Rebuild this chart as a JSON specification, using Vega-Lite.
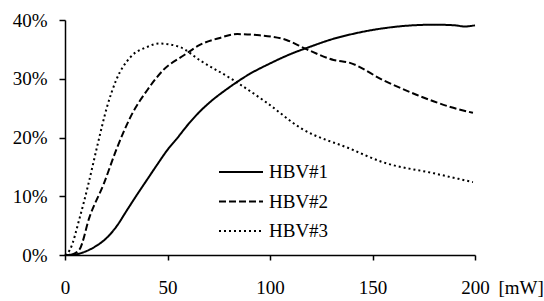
{
  "$schema": "https://vega.github.io/schema/vega-lite/v6.json",
  "autosize": "none",
  "width": 410,
  "height": 235,
  "padding": {"left": 65, "top": 20, "right": 69, "bottom": 46},
  "background": "white",
  "config": {
    "view": {"stroke": null},
    "font": "Liberation Serif",
    "axis": {"grid": false, "domainColor": "black", "domainWidth": 1.5, "tickColor": "black", "tickWidth": 1.5, "labelColor": "black", "labelFont": "Liberation Serif", "titleFont": "Liberation Serif", "labelFontWeight": "normal"}
  },
  "data": {"values": [
    {"s": "HBV#1", "x": 0, "y": 0},
    {"s": "HBV#1", "x": 5, "y": 0.001},
    {"s": "HBV#1", "x": 10, "y": 0.006},
    {"s": "HBV#1", "x": 15, "y": 0.015},
    {"s": "HBV#1", "x": 20, "y": 0.028},
    {"s": "HBV#1", "x": 25, "y": 0.048},
    {"s": "HBV#1", "x": 30, "y": 0.075},
    {"s": "HBV#1", "x": 35, "y": 0.102},
    {"s": "HBV#1", "x": 40, "y": 0.128},
    {"s": "HBV#1", "x": 45, "y": 0.154},
    {"s": "HBV#1", "x": 50, "y": 0.179},
    {"s": "HBV#1", "x": 55, "y": 0.2},
    {"s": "HBV#1", "x": 60, "y": 0.222},
    {"s": "HBV#1", "x": 66, "y": 0.245},
    {"s": "HBV#1", "x": 70, "y": 0.258},
    {"s": "HBV#1", "x": 80, "y": 0.285},
    {"s": "HBV#1", "x": 90, "y": 0.308},
    {"s": "HBV#1", "x": 100, "y": 0.326},
    {"s": "HBV#1", "x": 110, "y": 0.342},
    {"s": "HBV#1", "x": 120, "y": 0.355},
    {"s": "HBV#1", "x": 130, "y": 0.367},
    {"s": "HBV#1", "x": 140, "y": 0.376},
    {"s": "HBV#1", "x": 150, "y": 0.383},
    {"s": "HBV#1", "x": 160, "y": 0.388},
    {"s": "HBV#1", "x": 170, "y": 0.391},
    {"s": "HBV#1", "x": 180, "y": 0.392},
    {"s": "HBV#1", "x": 190, "y": 0.391},
    {"s": "HBV#1", "x": 195, "y": 0.389},
    {"s": "HBV#1", "x": 200, "y": 0.391},
    {"s": "HBV#2", "x": 3, "y": 0},
    {"s": "HBV#2", "x": 7, "y": 0.009},
    {"s": "HBV#2", "x": 12, "y": 0.065},
    {"s": "HBV#2", "x": 19, "y": 0.122},
    {"s": "HBV#2", "x": 25, "y": 0.179},
    {"s": "HBV#2", "x": 33, "y": 0.242},
    {"s": "HBV#2", "x": 40, "y": 0.28},
    {"s": "HBV#2", "x": 48, "y": 0.315},
    {"s": "HBV#2", "x": 58, "y": 0.34},
    {"s": "HBV#2", "x": 66, "y": 0.358},
    {"s": "HBV#2", "x": 75, "y": 0.369},
    {"s": "HBV#2", "x": 84, "y": 0.376},
    {"s": "HBV#2", "x": 95, "y": 0.374},
    {"s": "HBV#2", "x": 108, "y": 0.366},
    {"s": "HBV#2", "x": 118, "y": 0.35},
    {"s": "HBV#2", "x": 131, "y": 0.332},
    {"s": "HBV#2", "x": 139, "y": 0.327},
    {"s": "HBV#2", "x": 155, "y": 0.298},
    {"s": "HBV#2", "x": 172, "y": 0.272},
    {"s": "HBV#2", "x": 188, "y": 0.252},
    {"s": "HBV#2", "x": 199, "y": 0.242},
    {"s": "HBV#3", "x": 0, "y": 0},
    {"s": "HBV#3", "x": 2.4, "y": 0.009},
    {"s": "HBV#3", "x": 7.3, "y": 0.065},
    {"s": "HBV#3", "x": 11.5, "y": 0.122},
    {"s": "HBV#3", "x": 15.5, "y": 0.182},
    {"s": "HBV#3", "x": 20.5, "y": 0.252},
    {"s": "HBV#3", "x": 25, "y": 0.298},
    {"s": "HBV#3", "x": 32, "y": 0.337},
    {"s": "HBV#3", "x": 40, "y": 0.354},
    {"s": "HBV#3", "x": 46, "y": 0.36},
    {"s": "HBV#3", "x": 56, "y": 0.354},
    {"s": "HBV#3", "x": 66, "y": 0.331},
    {"s": "HBV#3", "x": 82, "y": 0.298},
    {"s": "HBV#3", "x": 98.5, "y": 0.259},
    {"s": "HBV#3", "x": 115, "y": 0.216},
    {"s": "HBV#3", "x": 139, "y": 0.181},
    {"s": "HBV#3", "x": 155, "y": 0.158},
    {"s": "HBV#3", "x": 180, "y": 0.139},
    {"s": "HBV#3", "x": 199, "y": 0.124}
  ]},
  "mark": {"type": "line", "color": "black", "strokeWidth": 2, "interpolate": "monotone"},
  "encoding": {
    "x": {"field": "x", "type": "quantitative", "scale": {"domain": [0, 200], "nice": false},
      "axis": {"values": [0, 50, 100, 150, 200], "labelFontSize": 19, "tickSize": 5, "labelPadding": 18, "title": "[mW]", "titleFontSize": 19, "titleFontWeight": "normal", "titleAnchor": "start", "titleAlign": "left", "titleBaseline": "top", "titleX": 433, "titleY": 23, "titleColor": "black", "labelFlush": false}},
    "y": {"field": "y", "type": "quantitative", "scale": {"domain": [0, 0.4], "nice": false},
      "axis": {"values": [0, 0.1, 0.2, 0.3, 0.4], "format": ".0%", "labelFontSize": 19, "tickSize": 6, "labelPadding": 12, "title": null}},
    "strokeDash": {"field": "s", "type": "nominal",
      "scale": {"domain": ["HBV#1", "HBV#2", "HBV#3"], "range": [[1, 0], [7, 3], [2, 3]]},
      "legend": {"title": null, "orient": "none", "legendX": 153, "legendY": 141, "padding": 0, "symbolType": "stroke", "symbolSize": 1936, "symbolStrokeWidth": 2, "symbolStrokeColor": "black", "labelFontSize": 19, "labelFont": "Liberation Serif", "labelColor": "black", "labelOffset": 5, "rowPadding": 7.5, "clipHeight": 22}}
  }
}
